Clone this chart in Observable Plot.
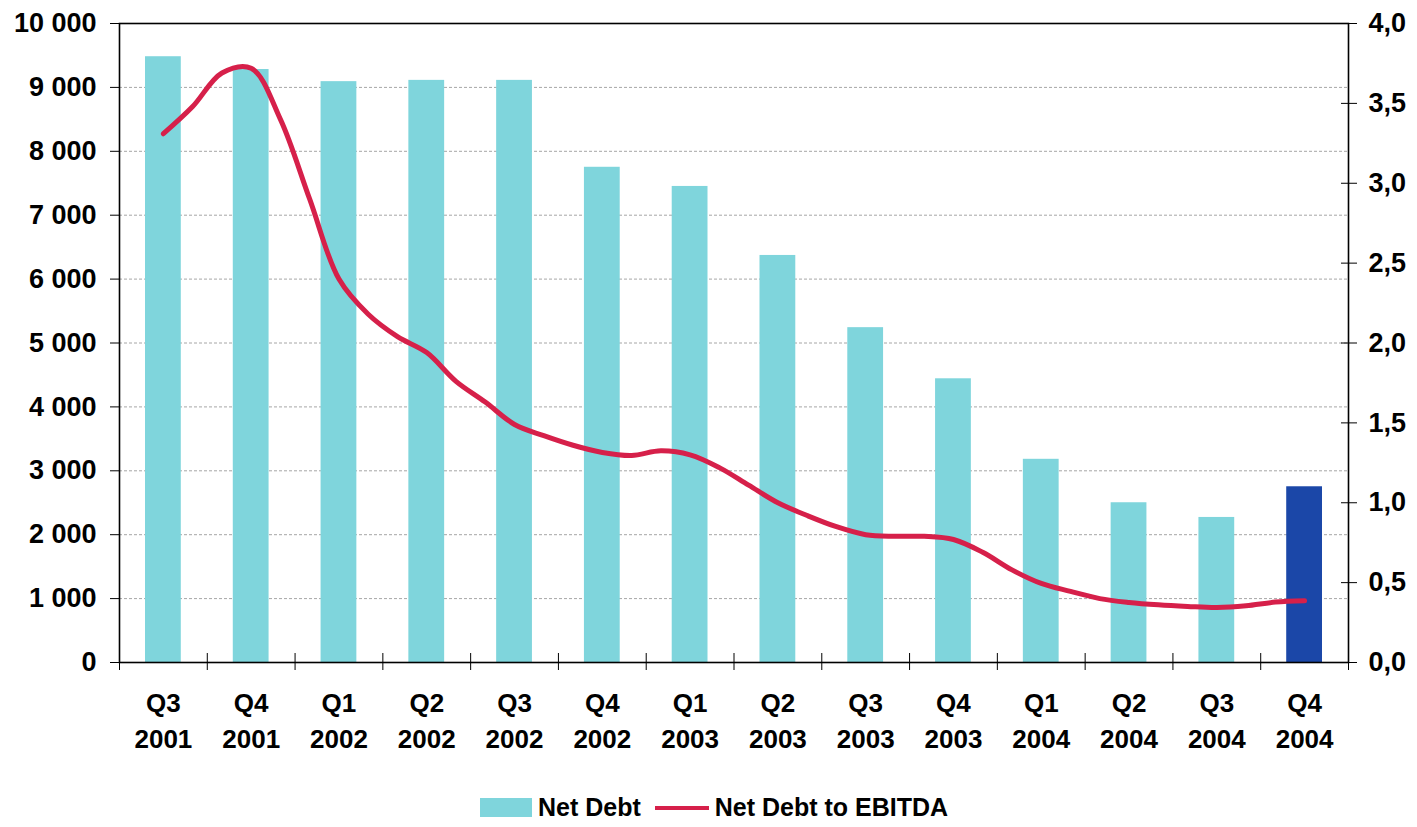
<!DOCTYPE html>
<html>
<head>
<meta charset="utf-8">
<script src="https://cdn.jsdelivr.net/npm/d3@7"></script>
<script src="https://cdn.jsdelivr.net/npm/@observablehq/plot@0.6"></script>
<style>
  html, body { margin: 0; padding: 0; background: #fff; }
  #wrap { position: relative; width: 1417px; height: 827px; font-family: "Liberation Sans", Arial, sans-serif; }
  #legend { position: absolute; left: 480px; top: 793px; display: flex; align-items: center;
            font: bold 25px "Liberation Sans", Arial, sans-serif; color: #000; }
  .sw-bar { width: 52px; height: 19px; background: #7fd5dc; margin-right: 6px; }
  .sw-line { width: 54px; height: 4px; background: #d6204a; margin-left: 14px; margin-right: 6px; }
  #chart g[aria-label="y-axis tick label"] { font-size: 27px !important; }
  #chart g[aria-label="x-axis tick label"] { font-size: 26px !important; }
</style>
</head>
<body>
<div id="wrap">
  <div id="chart"></div>
  <div id="legend">
    <div class="sw-bar"></div><span>Net Debt</span>
    <div class="sw-line"></div><span>Net Debt to EBITDA</span>
  </div>
</div>
<script>
// Quarter labels (two lines per category)
const quarters = ["Q3","Q4","Q1","Q2","Q3","Q4","Q1","Q2","Q3","Q4","Q1","Q2","Q3","Q4"];
const years    = ["2001","2001","2002","2002","2002","2002","2003","2003","2003","2003","2004","2004","2004","2004"];

// Net debt at quarter end (left axis)
const netDebt = [9480, 9280, 9090, 9110, 9110, 7750, 7450, 6370, 5240, 4440, 3180, 2500, 2270, 2750];

// Net debt to EBITDA, monthly from Q3 2001 to Q4 2004 (right axis)
const ratioMonthly = [
  3.31, 3.48, 3.69, 3.72, 3.40, 2.90, 2.40, 2.18, 2.04, 1.94,
  1.76, 1.63, 1.49, 1.42, 1.36, 1.315, 1.296, 1.325, 1.30, 1.22,
  1.11, 1.00, 0.92, 0.85, 0.80, 0.79, 0.79, 0.77, 0.69, 0.58,
  0.495, 0.445, 0.40, 0.376, 0.361, 0.351, 0.344, 0.355, 0.378, 0.386
];

// Axis tick values
const leftTicks  = [0, 1000, 2000, 3000, 4000, 5000, 6000, 7000, 8000, 9000, 10000];
const rightTicks = [0, 0.5, 1.0, 1.5, 2.0, 2.5, 3.0, 3.5, 4.0];
const gridValues = [1000, 2000, 3000, 4000, 5000, 6000, 7000, 8000, 9000];

const RATIO_TO_DEBT = 10000 / 4; // right axis 0–4,0 shares the 0–10 000 range

const bars = netDebt.map((v, i) => ({i, value: v, highlight: i === netDebt.length - 1}));
const line = ratioMonthly.map((r, k) => ({x: k / 3, y: r * RATIO_TO_DEBT}));
const idx = quarters.map((_, i) => i);
const bounds = d3.range(-0.5, quarters.length, 1);

const fmtThousands = d => d >= 1000 ? `${Math.floor(d / 1000)} ${String(d % 1000).padStart(3, "0")}` : `${d}`;

const W = 1417, H = 776;

const chart = Plot.plot({
  width: W,
  height: H,
  marginLeft: 119,
  marginRight: 69,
  marginTop: 23,
  marginBottom: H - 662,
  style: {
    fontFamily: '"Liberation Sans", Arial, sans-serif',
    fontSize: "25px",
    fontWeight: "bold",
    color: "#000",
    background: "#fff",
    overflow: "visible"
  },
  x: {type: "linear", domain: [-0.5, quarters.length - 0.5], axis: null},
  y: {domain: [0, 10000], axis: null},
  marks: [
    // dotted horizontal gridlines
    Plot.ruleY(gridValues, {stroke: "#a6a6a6", strokeWidth: 1, strokeDasharray: "3,2"}),
    // net debt bars
    Plot.rectY(bars, {
      x1: d => d.i - 0.5, x2: d => d.i + 0.5, y: "value",
      insetLeft: 26, insetRight: 26,
      fill: d => d.highlight ? "#1b47a8" : "#7fd5dc"
    }),
    // ratio line
    Plot.line(line, {x: "x", y: "y", stroke: "#d6204a", strokeWidth: 5, curve: "catmull-rom"}),
    Plot.frame({stroke: "#000", strokeWidth: 1.6}),
    // left axis
    Plot.axisY({anchor: "left", ticks: leftTicks, tickSize: 9, tickPadding: 14, label: null,
      tickFormat: fmtThousands}),
    // right axis (ticks cross the axis line)
    Plot.axisY({anchor: "right", ticks: rightTicks.map(r => r * RATIO_TO_DEBT), tickSize: 8, tickPadding: 12,
      label: null, tickFormat: d => (d / RATIO_TO_DEBT).toFixed(1).replace(".", ","), textAnchor: "start"}),
    Plot.axisY({anchor: "right", ticks: rightTicks.map(r => r * RATIO_TO_DEBT), tickSize: 8, dx: -8,
      label: null, tickFormat: () => ""}),
    // category boundary ticks crossing the baseline
    Plot.axisX({anchor: "bottom", ticks: bounds, tickSize: 8, label: null, tickFormat: () => ""}),
    Plot.axisX({anchor: "bottom", ticks: bounds, tickSize: 9, dy: -9, label: null, tickFormat: () => ""}),
    // two-line category labels
    Plot.axisX({anchor: "bottom", ticks: idx, tickSize: 0, tickPadding: 25, lineHeight: 1.35, label: null,
      tickFormat: i => `${quarters[i]}\n${years[i]}`})
  ]
});

document.getElementById("chart").appendChild(chart);
</script>
</body>
</html>
